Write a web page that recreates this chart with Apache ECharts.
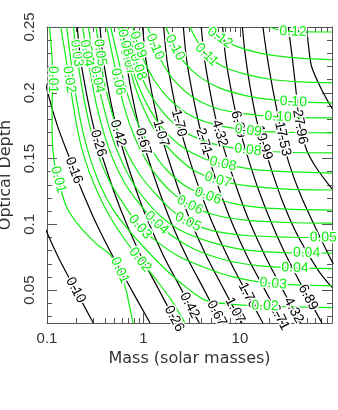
<!DOCTYPE html>
<html>
<head>
<meta charset="utf-8">
<script src="https://cdn.jsdelivr.net/npm/echarts@6/dist/echarts.min.js"></script>
<style>
  html, body { margin: 0; padding: 0; background: #fff; }
  #chart { width: 338px; height: 410px; }
</style>
</head>
<body>
<div id="chart"></div>
<script>
// axis ticks
const xMajor = [0.1, 1, 10];
const xMajorLabels = ['0.1', '1', '10'];
const xMinor = [0.2, 0.3, 0.4, 0.5, 0.6, 0.7, 0.8, 0.9, 2, 3, 4, 5, 6, 7, 8, 9, 20, 30, 40, 50, 60, 70, 80, 90];
const yMajor = [0.05, 0.1, 0.15, 0.2, 0.25];
const yMajorLabels = ['0.05', '0.1', '0.15', '0.2', '0.25'];
const yMinor = [0.03, 0.04, 0.06, 0.07, 0.08, 0.09, 0.11, 0.12, 0.13, 0.14, 0.16, 0.17, 0.18, 0.19, 0.21, 0.22, 0.23, 0.24];

// black contours [mass, optical depth]
const black010 = [[0.041, 0.175], [0.052, 0.15], [0.068, 0.125], [0.092, 0.1], [0.131, 0.075], [0.198, 0.05], [0.302, 0.025]];
const black016 = [[0.076, 0.25], [0.086, 0.225], [0.102, 0.2], [0.128, 0.175], [0.172, 0.15], [0.19, 0.141], [0.232, 0.125], [0.327, 0.1], [0.487, 0.075], [0.754, 0.05], [1.17, 0.025]];
const black026 = [[0.206, 0.25], [0.223, 0.225], [0.256, 0.2], [0.302, 0.175], [0.34, 0.1616], [0.38, 0.15], [0.494, 0.125], [0.67, 0.1], [0.957, 0.075], [1.45, 0.05], [2.08, 0.0283], [2.21, 0.025]];
const black042 = [[0.354, 0.25], [0.384, 0.225], [0.439, 0.2], [0.519, 0.175], [0.546, 0.1692], [0.653, 0.15], [0.849, 0.125], [1.15, 0.1], [1.64, 0.075], [2.49, 0.05], [3.0, 0.0384], [3.79, 0.025]];
const black067 = [[0.608, 0.25], [0.659, 0.225], [0.754, 0.2], [0.891, 0.175], [0.993, 0.1629], [1.12, 0.15], [1.46, 0.125], [1.97, 0.1], [2.82, 0.075], [4.27, 0.05], [5.73, 0.0323], [6.52, 0.025]];
const black107 = [[0.98, 0.25], [1.06, 0.225], [1.22, 0.2], [1.44, 0.175], [1.51, 0.1692], [1.81, 0.15], [2.35, 0.125], [3.18, 0.1], [4.55, 0.075], [6.88, 0.05], [8.88, 0.0346], [10.5, 0.025]];
const black170 = [[1.62, 0.25], [1.75, 0.225], [2.01, 0.2], [2.33, 0.177], [2.98, 0.15], [3.88, 0.125], [5.25, 0.1], [7.52, 0.075], [12.1, 0.046], [17.3, 0.025]];
const black271 = [[2.59, 0.25], [2.8, 0.225], [3.21, 0.2], [3.79, 0.175], [4.22, 0.1629], [4.77, 0.15], [6.21, 0.125], [8.39, 0.1], [12.0, 0.075], [18.2, 0.05], [25.7, 0.0293], [27.7, 0.025]];
const black432 = [[3.97, 0.25], [4.31, 0.225], [4.93, 0.2], [5.82, 0.175], [6.13, 0.1692], [7.33, 0.15], [9.53, 0.125], [12.9, 0.1], [18.5, 0.075], [27.9, 0.05], [36.0, 0.0346], [42.6, 0.025]];
const black689 = [[6.61, 0.25], [7.16, 0.225], [8.2, 0.2], [9.63, 0.176], [12.2, 0.15], [15.8, 0.125], [21.5, 0.1], [30.7, 0.075], [50.7, 0.0445], [70.8, 0.025]];
const black1099 = [[10.6, 0.25], [11.3, 0.23], [12.7, 0.205], [14.9, 0.179], [17.4, 0.162], [21.3, 0.141], [28.1, 0.116], [40.2, 0.0905], [64.8, 0.065], [90, 0.052]];
const black1753 = [[17.3, 0.25], [18.9, 0.23], [21.6, 0.205], [24.9, 0.182], [27.7, 0.165], [32.4, 0.146], [41.9, 0.1235], [57.6, 0.101], [79.1, 0.08], [92.7, 0.07]];
const black2796 = [[31.7, 0.25], [35.1, 0.225], [38.7, 0.197], [41.9, 0.174], [49.1, 0.1565], [62.3, 0.1426], [90, 0.127]];
const black4460 = [[49.1, 0.25], [51.5, 0.235], [55.3, 0.22], [67.5, 0.205], [90, 0.188]];

// green contours [mass, optical depth]
const green01a = [[0.106, 0.25], [0.112, 0.23], [0.115, 0.21], [0.113, 0.19], [0.113, 0.169], [0.118, 0.149], [0.131, 0.134], [0.16, 0.113], [0.22, 0.098], [0.327, 0.085], [0.45, 0.077], [0.57, 0.065], [0.66, 0.05], [0.72, 0.037], [0.78, 0.025]];
const green02a = [[0.139, 0.25], [0.154, 0.23], [0.17, 0.21], [0.1875, 0.19], [0.211, 0.169], [0.248, 0.149], [0.314, 0.129], [0.432, 0.108], [0.618, 0.09], [0.92, 0.073], [1.37, 0.0575], [1.96, 0.042], [2.69, 0.025]];
const green02b = [[0.16, 0.25], [0.173, 0.23], [0.1875, 0.21], [0.208, 0.19], [0.238, 0.169], [0.2835, 0.149], [0.36, 0.129], [0.486, 0.111], [0.696, 0.096], [1.08, 0.0803], [1.88, 0.0626], [3.03, 0.05], [4.51, 0.042], [8.53, 0.0392], [18.2, 0.0379], [90, 0.0367]];
const green03a = [[0.1875, 0.25], [0.203, 0.23], [0.223, 0.21], [0.25, 0.19], [0.29, 0.169], [0.354, 0.149], [0.457, 0.131], [0.628, 0.115], [0.92, 0.098], [1.32, 0.088], [2.21, 0.0765], [4.17, 0.0676], [8.53, 0.06], [22.1, 0.0549], [90, 0.0532]];
const green04a = [[0.234, 0.25], [0.258, 0.23], [0.29, 0.21], [0.327, 0.19], [0.39, 0.169], [0.486, 0.149], [0.643, 0.131], [0.92, 0.115], [1.37, 0.101], [2.04, 0.0905], [3.56, 0.0803], [7.28, 0.0727], [16.1, 0.0684], [37.2, 0.0669], [90, 0.0664]];
const green04b = [[0.268, 0.25], [0.297, 0.23], [0.332, 0.21], [0.384, 0.19], [0.461, 0.169], [0.585, 0.149], [0.785, 0.131], [1.12, 0.116], [1.61, 0.1045], [2.59, 0.0943], [4.89, 0.0867], [10.8, 0.0808], [26, 0.0786], [49.1, 0.0783], [90, 0.0781]];
const green05a = [[0.322, 0.25], [0.354, 0.2305], [0.384, 0.2114], [0.443, 0.1921], [0.535, 0.1718], [0.68, 0.154], [0.92, 0.1375], [1.32, 0.1235], [1.96, 0.1108], [2.89, 0.1019], [5.29, 0.095], [11.7, 0.0915], [33, 0.0902], [73.1, 0.09], [90, 0.09]];
const green06a = [[0.415, 0.25], [0.483, 0.2266], [0.544, 0.2084], [0.643, 0.187], [0.804, 0.1667], [1.06, 0.1489], [1.48, 0.1337], [2.12, 0.1222], [3.03, 0.1146], [5.29, 0.1075], [11.7, 0.1032], [30.5, 0.1014], [90, 0.1009]];
const green06b = [[0.457, 0.25], [0.519, 0.2327], [0.594, 0.215], [0.713, 0.1946], [0.905, 0.1743], [1.22, 0.1565], [1.74, 0.1413], [2.8, 0.1286], [4.66, 0.1215], [8.53, 0.1159], [18.9, 0.1123], [90, 0.1108]];
const green07a = [[0.549, 0.25], [0.618, 0.2353], [0.691, 0.2236], [0.817, 0.2048], [1.02, 0.187], [1.37, 0.1692], [2.04, 0.154], [3.28, 0.1413], [5.92, 0.1337], [11.7, 0.1294], [30.5, 0.1268], [90, 0.1261]];
const green08a = [[0.594, 0.25], [0.643, 0.238], [0.736, 0.2226], [0.891, 0.2048], [1.17, 0.187], [1.63, 0.1718], [2.49, 0.1591], [4.17, 0.1502], [6.66, 0.1459], [13.7, 0.1418], [35.7, 0.1398], [90, 0.139]];
const green08b = [[0.68, 0.25], [0.773, 0.2353], [0.877, 0.2198], [1.06, 0.2048], [1.39, 0.1908], [1.96, 0.1781], [3.03, 0.168], [5.29, 0.1611], [12.1, 0.1565], [30.5, 0.1548], [90, 0.1543]];
const green09a = [[0.773, 0.25], [0.877, 0.2366], [1.04, 0.2226], [1.32, 0.2086], [1.81, 0.1959], [2.8, 0.1845], [4.89, 0.1769], [12.2, 0.1713], [30.5, 0.17], [90, 0.1695]];
const green10a = [[1.1, 0.25], [1.32, 0.235], [1.61, 0.2213], [2.12, 0.2086], [3.16, 0.1972], [5.29, 0.189], [10, 0.1845], [24.9, 0.1817], [90, 0.1809]];
const green10b = [[1.71, 0.25], [2.12, 0.2343], [2.69, 0.2226], [3.85, 0.2119], [6.2, 0.2035], [11.7, 0.1977], [22.1, 0.1946], [35.7, 0.1931], [90, 0.1923]];
const green11a = [[3.03, 0.25], [3.7, 0.2378], [4.51, 0.2289], [6.46, 0.2205], [10.8, 0.2145], [22.1, 0.2099], [49.1, 0.2081], [90, 0.2076]];
const green12a = [[4.7, 0.25], [6.2, 0.2419], [9.24, 0.2353], [16.1, 0.2302], [33, 0.2269], [90, 0.2251]];
const green12b = [[20.5, 0.25], [26, 0.2475], [35.5, 0.2465], [90, 0.2462]];

const blackContours = [
  { level: '0.10', pts: black010, labelAt: [5] },
  { level: '0.16', pts: black016, labelAt: [5] },
  { level: '0.26', pts: black026, labelAt: [4, 10] },
  { level: '0.42', pts: black042, labelAt: [4, 10] },
  { level: '0.67', pts: black067, labelAt: [4, 10] },
  { level: '1.07', pts: black107, labelAt: [4, 10] },
  { level: '1.70', pts: black170, labelAt: [3, 8] },
  { level: '2.71', pts: black271, labelAt: [4, 10] },
  { level: '4.32', pts: black432, labelAt: [4, 10] },
  { level: '6.89', pts: black689, labelAt: [3, 8] },
  { level: '10.99', pts: black1099, labelAt: [4] },
  { level: '17.53', pts: black1753, labelAt: [4] },
  { level: '27.96', pts: black2796, labelAt: [3] },
  { level: '44.60', pts: black4460, labelAt: [] }
];
const greenContours = [
  { level: '0.01', pts: green01a, labelAt: [2, 6, 11] },
  { level: '0.02', pts: green02a, labelAt: [2, 9] },
  { level: '0.02', pts: green02b, labelAt: [14] },
  { level: '0.03', pts: green03a, labelAt: [1, 8, 13] },
  { level: '0.04', pts: green04a, labelAt: [1, 8, 13] },
  { level: '0.04', pts: green04b, labelAt: [2, 13] },
  { level: '0.05', pts: green05a, labelAt: [1, 9, 13] },
  { level: '0.06', pts: green06a, labelAt: [2, 8] },
  { level: '0.06', pts: green06b, labelAt: [8] },
  { level: '0.07', pts: green07a, labelAt: [2, 8] },
  { level: '0.08', pts: green08a, labelAt: [1, 8] },
  { level: '0.08', pts: green08b, labelAt: [2, 8] },
  { level: '0.09', pts: green09a, labelAt: [1, 7] },
  { level: '0.10', pts: green10a, labelAt: [1, 7] },
  { level: '0.10', pts: green10b, labelAt: [1, 7] },
  { level: '0.11', pts: green11a, labelAt: [2] },
  { level: '0.12', pts: green12a, labelAt: [1] },
  { level: '0.12', pts: green12b, labelAt: [2] }
];

const BLACK = '#000000';
const GREEN = '#0fee0f';
const AXIS = '#555555';
const lg = v => Math.log10(v);
const xMin = 0.1, xMax = 90, yMin = 0.025, yMax = 0.25;

const chart = echarts.init(document.getElementById('chart'));

const pick = (vals, labels) => v => {
  const i = vals.findIndex(t => Math.abs(t - v) < 1e-6);
  return i < 0 ? '' : labels[i];
};

function tickAxis(extra) {
  return Object.assign({
    type: 'value',
    splitLine: { show: false },
    axisLine: { show: false, onZero: false },
    axisLabel: { show: false },
    axisPointer: { show: false }
  }, extra);
}

const tickFont = { fontFamily: 'Liberation Sans', fontSize: 15, color: '#333', hideOverlap: false };
const nameFont = { fontFamily: 'DejaVu Sans', fontSize: 16, color: '#333' };
const lineSt = { color: AXIS, width: 1 };

const xMajorLog = xMajor.map(lg), xMinorLog = xMinor.map(lg);

const option = {
  animation: false,
  backgroundColor: '#fff',
  grid: { left: 47, right: 6, top: 27, bottom: 87, containLabel: false, outerBoundsMode: 'none' },
  xAxis: [
    { type: 'log', logBase: 10, min: xMin, max: xMax, show: false },
    tickAxis({
      position: 'bottom', min: lg(xMin), max: lg(xMax),
      axisLine: { show: true, onZero: false, lineStyle: lineSt },
      axisTick: { inside: true, length: 10, lineStyle: lineSt, customValues: xMajorLog },
      axisLabel: Object.assign({ show: true, margin: 8, customValues: xMajorLog, formatter: pick(xMajorLog, xMajorLabels) }, tickFont),
      name: 'Mass (solar masses)', nameLocation: 'middle', nameGap: 14, nameTextStyle: nameFont
    }),
    tickAxis({
      position: 'bottom', min: lg(xMin), max: lg(xMax),
      axisTick: { inside: true, length: 5, lineStyle: lineSt, customValues: xMinorLog }
    }),
    tickAxis({
      position: 'top', min: lg(xMin), max: lg(xMax),
      axisLine: { show: true, onZero: false, lineStyle: lineSt },
      axisTick: { inside: true, length: 10, lineStyle: lineSt, customValues: xMajorLog }
    }),
    tickAxis({
      position: 'top', min: lg(xMin), max: lg(xMax),
      axisTick: { inside: true, length: 5, lineStyle: lineSt, customValues: xMinorLog }
    })
  ],
  yAxis: [
    tickAxis({
      position: 'left', min: yMin, max: yMax,
      axisLine: { show: true, onZero: false, lineStyle: lineSt },
      axisTick: { inside: true, length: 10, lineStyle: lineSt, customValues: yMajor },
      axisLabel: Object.assign({ show: true, rotate: 90, margin: 10, customValues: yMajor, formatter: pick(yMajor, yMajorLabels) }, tickFont),
      name: 'Optical Depth', nameLocation: 'middle', nameGap: 20, nameTextStyle: nameFont
    }),
    tickAxis({
      position: 'left', min: yMin, max: yMax,
      axisTick: { inside: true, length: 5, lineStyle: lineSt, customValues: yMinor }
    }),
    tickAxis({
      position: 'right', min: yMin, max: yMax,
      axisLine: { show: true, onZero: false, lineStyle: lineSt },
      axisTick: { inside: true, length: 10, lineStyle: lineSt, customValues: yMajor }
    }),
    tickAxis({
      position: 'right', min: yMin, max: yMax,
      axisTick: { inside: true, length: 5, lineStyle: lineSt, customValues: yMinor }
    })
  ],
  series: []
};

const all = blackContours.map(c => ({ c, color: BLACK })).concat(greenContours.map(c => ({ c, color: GREEN })));

option.series = all.map(({ c, color }) => ({
  type: 'line',
  xAxisIndex: 0,
  yAxisIndex: 0,
  data: c.pts,
  smooth: 0.3,
  symbol: 'circle',
  symbolSize: 0.01,
  showSymbol: true,
  silent: true,
  lineStyle: { color, width: 1.2 },
  itemStyle: { color, borderWidth: 0 },
  z: 2
}));

chart.setOption(option);

// second pass: contour labels turned along their line
const toPx = p => chart.convertToPixel({ seriesIndex: 0 }, p);
chart.setOption({
  series: all.map(({ c, color }) => ({
    data: c.pts.map((p, i) => {
      if (c.labelAt.indexOf(i) < 0) return p;
      const a = toPx(c.pts[Math.max(i - 1, 0)]);
      const b = toPx(c.pts[Math.min(i + 1, c.pts.length - 1)]);
      let ang = -Math.atan2(b[1] - a[1], b[0] - a[0]) * 180 / Math.PI;
      if (ang > 90) ang -= 180;
      if (ang < -90) ang += 180;
      return {
        value: p,
        label: {
          show: true, position: 'inside', formatter: c.level, rotate: ang,
          color, fontFamily: 'Liberation Sans', fontSize: 14,
          textBorderColor: '#fff', textBorderWidth: 3
        }
      };
    })
  }))
});
</script>
</body>
</html>
